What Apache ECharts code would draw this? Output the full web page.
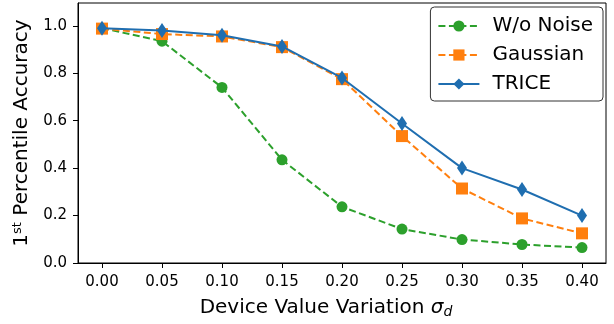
<!DOCTYPE html>
<html><head><meta charset="utf-8">
<script src="https://cdn.jsdelivr.net/npm/echarts@6/dist/echarts.min.js"></script>
<style>html,body{margin:0;padding:0;background:#fff}#c{width:614px;height:324px}</style>
</head><body><div id="c"></div>
<script>
const sigma = [0.00, 0.05, 0.10, 0.15, 0.20, 0.25, 0.30, 0.35, 0.40];
const woNoise = [0.99, 0.935, 0.740, 0.435, 0.237, 0.143, 0.099, 0.078, 0.065];
const gaussian = [0.988, 0.965, 0.955, 0.910, 0.775, 0.535, 0.314, 0.188, 0.125];
const trice = [0.990, 0.980, 0.960, 0.913, 0.780, 0.588, 0.400, 0.310, 0.200];
const xTicks = [0.00, 0.05, 0.10, 0.15, 0.20, 0.25, 0.30, 0.35, 0.40];
const yTicks = [0.0, 0.2, 0.4, 0.6, 0.8, 1.0];
const names = ['W/o Noise', 'Gaussian', 'TRICE'];

const font = 'DejaVu Sans';
const pair = ys => sigma.map((x, i) => [x, ys[i]]);
const chart = echarts.init(document.getElementById('c'), null, {renderer: 'canvas'});
chart.setOption({
  animation: false,
  backgroundColor: '#fff',
  grid: {left: 78, right: 8, top: 3, bottom: 58, show: true, borderColor: '#000', borderWidth: 1, backgroundColor: 'transparent'},
  legend: {
    data: names, orient: 'vertical', right: 11, top: 7,
    itemWidth: 41, itemHeight: 14, itemGap: 9,
    padding: [9, 10, 7, 7],
    borderColor: '#333', borderWidth: 1, borderRadius: 4,
    backgroundColor: 'rgba(255,255,255,0.8)',
    textStyle: {fontFamily: font, fontSize: 20, lineHeight: 20, color: '#000', padding: [0, 0, 0, 8]}
  },
  xAxis: {
    type: 'value', min: -0.02, max: 0.42,
    name: '{t|Device Value Variation }{s|σ}{d|d}',
    nameLocation: 'middle', nameGap: 33,
    nameTextStyle: {fontFamily: font, fontSize: 20, color: '#000', padding: [0, 32, 0, 0],
      rich: {t: {fontFamily: font, fontSize: 20, color: '#000'},
             s: {fontFamily: font, fontSize: 20, fontStyle: 'italic', color: '#000'},
             d: {fontFamily: font, fontSize: 14, fontStyle: 'italic', color: '#000', padding: [9, 0, 0, 0]}}},
    axisLine: {show: true, onZero: false, lineStyle: {color: '#000', width: 1}},
    axisTick: {show: true, length: 5, inside: false, lineStyle: {color: '#000'}, customValues: xTicks},
    axisLabel: {fontFamily: font, fontSize: 15, color: '#000', margin: 12, customValues: xTicks,
      formatter: v => v.toFixed(2)},
    splitLine: {show: false}
  },
  yAxis: {
    type: 'value', min: 0, max: 1.096,
    name: '{t|1}{s|st}{t| Percentile Accuracy}',
    nameLocation: 'middle', nameGap: 43, nameRotate: 90,
    nameTextStyle: {fontFamily: font, fontSize: 20, color: '#000',
      rich: {t: {fontFamily: font, fontSize: 20, color: '#000'},
             s: {fontFamily: font, fontSize: 13, color: '#000', padding: [0, 0, 10, 0]}}},
    axisLine: {show: true, onZero: false, lineStyle: {color: '#000', width: 1}},
    axisTick: {show: true, length: 5, inside: false, lineStyle: {color: '#000'}, customValues: yTicks},
    axisLabel: {fontFamily: font, fontSize: 15, color: '#000', margin: 11, customValues: yTicks,
      formatter: v => v.toFixed(1)},
    splitLine: {show: false}
  },
  series: [
    {name: names[0], type: 'line', data: pair(woNoise), symbol: 'circle', symbolSize: 11,
     itemStyle: {color: '#2ca02c'}, lineStyle: {color: '#2ca02c', width: 2, type: [7, 3.5]}, z: 2},
    {name: names[1], type: 'line', data: pair(gaussian), symbol: 'rect', symbolSize: 12,
     itemStyle: {color: '#ff7f0e'}, lineStyle: {color: '#ff7f0e', width: 2, type: [7, 3.5]}, z: 3},
    {name: names[2], type: 'line', data: pair(trice), symbol: 'diamond', symbolSize: [10, 15],
     itemStyle: {color: '#1f6eb0'}, lineStyle: {color: '#1f6eb0', width: 2}, z: 4}
  ]
});
</script></body></html>
